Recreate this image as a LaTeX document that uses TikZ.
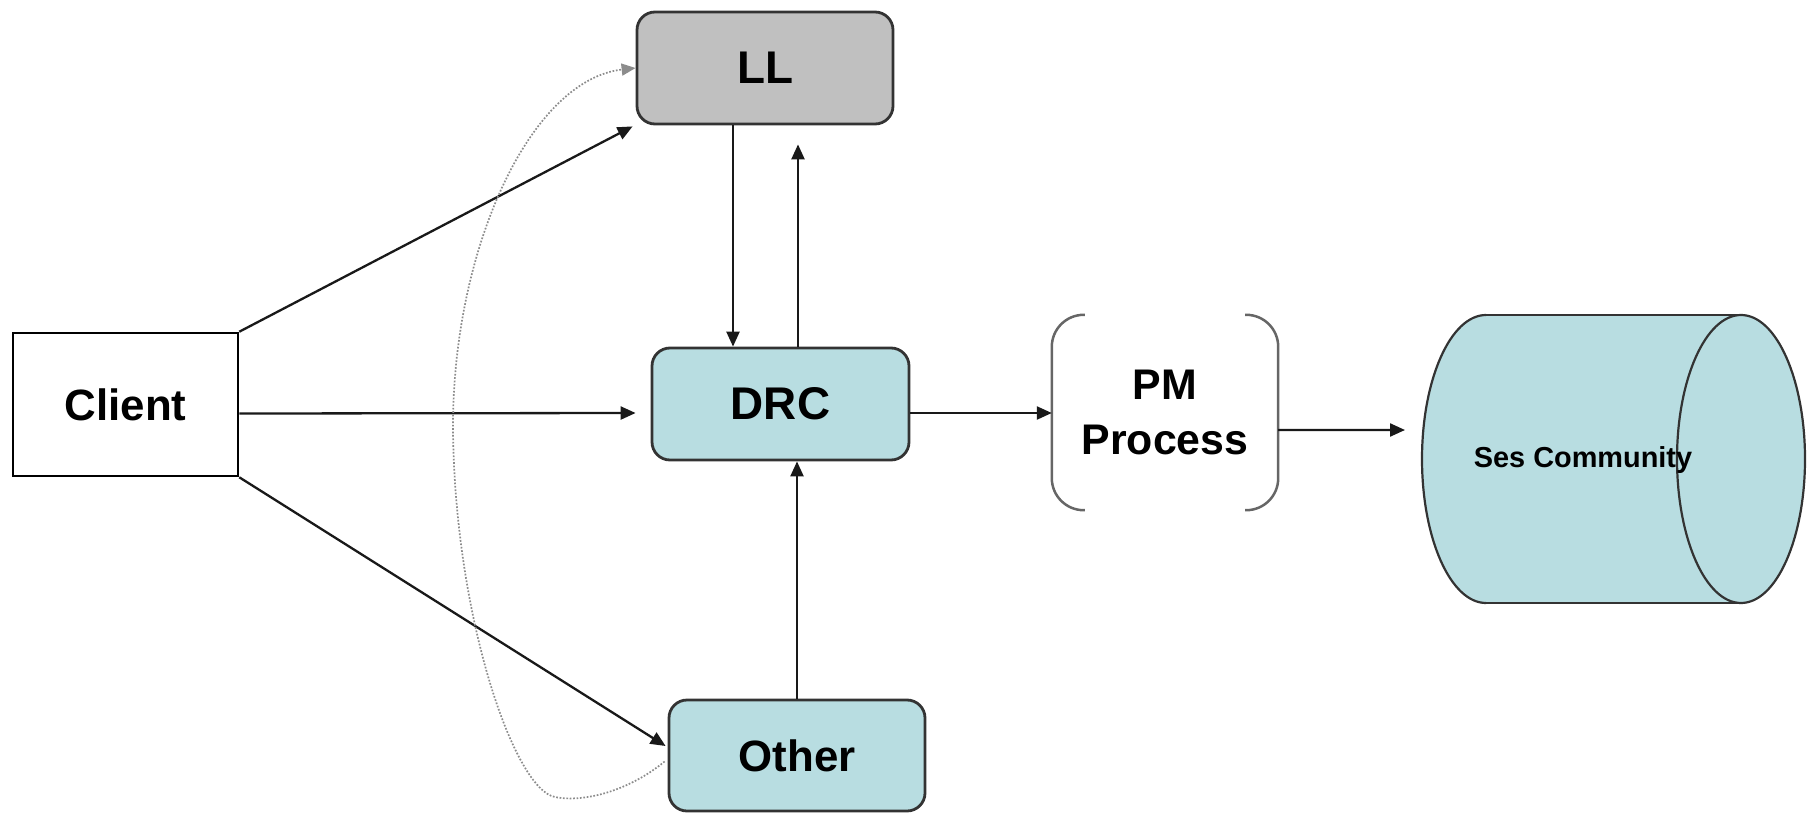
\documentclass[tikz,border=0pt]{standalone}
\usepackage{fontspec}
\setmainfont{Liberation Sans}
\usetikzlibrary{arrows.meta,calc}
\definecolor{lblue}{HTML}{B8DDE1}
\definecolor{lgray}{HTML}{C0C0C0}
\definecolor{edgecol}{HTML}{333333}
\begin{document}
\begin{tikzpicture}[x=1bp,y=-1bp,
  rbox/.style={rounded corners=18bp, draw=edgecol, line width=2.8bp, fill=lblue, inner sep=0pt,
    font=\bfseries\fontsize{46}{50}\selectfont},
  sqbox/.style={draw=black, line width=2.5bp, fill=white, inner sep=0pt,
    font=\bfseries\fontsize{44}{48}\selectfont},
  bracketline/.style={draw=black!60, line width=2.5bp, rounded corners=32bp},
  cylline/.style={draw=edgecol, line width=2.2bp},
  arr/.style={draw=black!90, line width=2.3bp, -{Triangle[length=15bp,width=13bp]}},
  dotarr/.style={draw=black!45, line width=1.7bp, dash pattern=on 1.7bp off 1.7bp,
    -{Triangle[length=14bp,width=12bp]}}]
\useasboundingbox (0,0) rectangle (1817,817);

% nodes
\node[rbox, fill=lgray, minimum width=256bp, minimum height=112bp] (LL) at (765,68) {LL};
\node[sqbox, minimum width=225bp, minimum height=143bp] (Client) at (125.5,404.5) {Client};
\node[rbox, minimum width=257bp, minimum height=112bp] (DRC) at (780.5,404) {DRC};
\node[rbox, minimum width=256bp, minimum height=111bp, font=\bfseries\fontsize{44}{48}\selectfont] (Other) at (797,755.5) {Other};
\node[minimum width=226bp, minimum height=195bp, inner sep=0pt, align=center,
  font=\bfseries\fontsize{43}{56}\selectfont] (PM) at (1165,412.5) {PM\\Process};
\draw[bracketline] ([xshift=33bp]PM.north west) -- (PM.north west) -- (PM.south west) -- ([xshift=33bp]PM.south west);
\draw[bracketline] ([xshift=-33bp]PM.north east) -- (PM.north east) -- (PM.south east) -- ([xshift=-33bp]PM.south east);

% cylinder
\fill[lblue] (1486,315) rectangle (1741,603);
\fill[lblue] (1486,459) ellipse[x radius=64, y radius=144];
\fill[lblue] (1741,459) ellipse[x radius=64, y radius=144];
\draw[cylline] (1486,315) -- (1741,315);
\draw[cylline] (1486,603) -- (1741,603);
\draw[cylline] (1741,459) ellipse[x radius=64, y radius=144];
\begin{scope}
  \clip (1400,300) rectangle (1486,620);
  \draw[cylline] (1486,459) ellipse[x radius=64, y radius=144];
\end{scope}
\coordinate (cyl) at (1422,459);
\node[inner sep=0pt, font=\bfseries\fontsize{29}{32}\selectfont] (ses) at (1583,460) {Ses Community};

% connectors
\draw[arr] (Client.north east) -- ([xshift=-3bp,yshift=-1bp]LL.south west);
\draw[arr] ([yshift=-9bp]Client.east) -- ([xshift=-15bp,yshift=-9bp]DRC.west);
\draw[arr] (Client.south east) -- ([xshift=-2bp,yshift=9.5bp]Other.west);
\draw[arr] ([xshift=-32bp]LL.south) -- ([xshift=-32bp]LL.south |- DRC.north);
\draw[arr] ([xshift=17.5bp]DRC.north) -- ([xshift=17.5bp,yshift=-19bp]DRC.north |- LL.south);
\draw[arr] (Other.north) -- (Other.north |- DRC.south);
\draw[arr] ([yshift=-9bp]DRC.east) -- ([yshift=-9bp]DRC.east -| PM.west);
\draw[arr] ($(PM.east)+(0,17.5)$) -- ($(cyl)+(-17,-29)$);
\draw[dotarr] ([xshift=-3bp,yshift=-6bp]Other.west)
  .. controls (630,790) and (585,803) .. (555,797)
  .. controls (515,790) and (455,620) .. (453,430)
  .. controls (452,250) and (530,80) .. (LL.west);
\end{tikzpicture}
\end{document}
